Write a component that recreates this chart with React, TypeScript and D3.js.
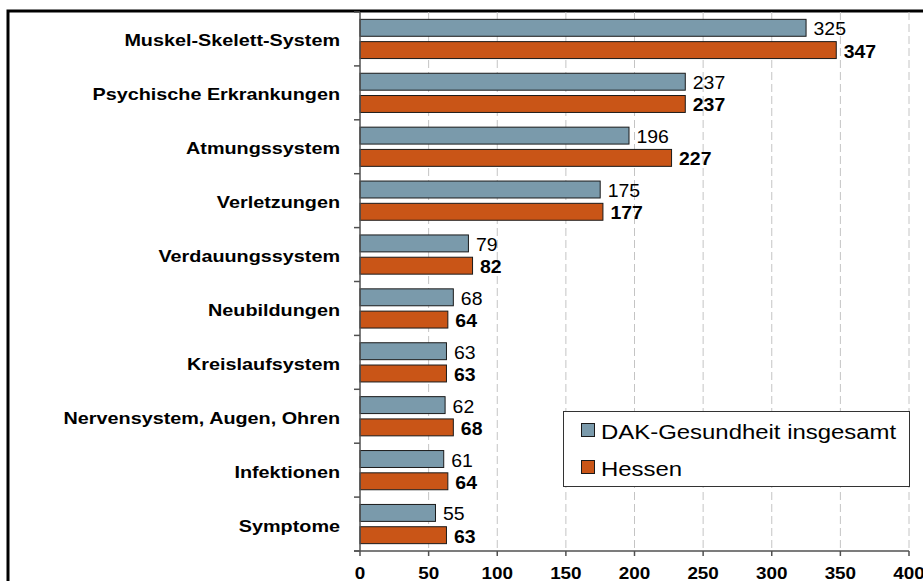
import React from "react";
import * as d3 from "d3";

const categories = [
  "Muskel-Skelett-System",
  "Psychische Erkrankungen",
  "Atmungssystem",
  "Verletzungen",
  "Verdauungssystem",
  "Neubildungen",
  "Kreislaufsystem",
  "Nervensystem, Augen, Ohren",
  "Infektionen",
  "Symptome",
];
const dakValues = [325, 237, 196, 175, 79, 68, 63, 62, 61, 55];
const hessenValues = [347, 237, 227, 177, 82, 64, 63, 68, 64, 63];
const seriesNames = ["DAK-Gesundheit insgesamt", "Hessen"];
const xTicks = [0, 50, 100, 150, 200, 250, 300, 350, 400];

const W = 923;
const H = 581;
const plotLeft = 360;
const plotRight = 909;
const plotTop = 12;
const plotBottom = 551;
const colors = ["#7a9aab", "#c95517"];
const font = "'Liberation Sans', Arial, sans-serif";

export default function App() {
  const x = d3.scaleLinear().domain([0, 400]).range([plotLeft, plotRight]);
  const y = d3.scaleBand<string>().domain(categories).range([plotTop, plotBottom]).padding(0);
  const inner = d3
    .scaleBand<number>()
    .domain([0, 1])
    .range([0, y.bandwidth()])
    .paddingInner(0.24)
    .paddingOuter(0.33);
  const series = [dakValues, hessenValues];

  const boundaries = categories.map((c) => y(c) as number).concat([plotBottom]);

  return (
    <>
      <style>{`body{margin:0;overflow:hidden}`}</style>
      <svg width={W} height={H} style={{ display: "block" }} fontFamily={font}>
        <rect x={0} y={0} width={W} height={H} fill="#fff" />
        {/* outer frame */}
        <rect x={8} y={11} width={W + 20} height={H + 20} fill="none" stroke="#000" strokeWidth={3} />

        {/* gridlines */}
        {xTicks.slice(1).map((t) => (
          <line
            key={"g" + t}
            x1={x(t)}
            x2={x(t)}
            y1={plotTop}
            y2={plotBottom}
            stroke="#c4c4c4"
            strokeWidth={1}
            strokeDasharray="8,4"
          />
        ))}

        {/* bars */}
        {categories.map((c, i) => (
          <g key={c}>
            {series.map((vals, s) => {
              const by = (y(c) as number) + (inner(s) as number);
              const bh = inner.bandwidth();
              const v = vals[i];
              return (
                <g key={s}>
                  <rect
                    x={x(0)}
                    y={by}
                    width={x(v) - x(0)}
                    height={bh}
                    fill={colors[s]}
                    stroke="#1a1a1a"
                    strokeWidth={1}
                  />
                  <text
                    transform={`translate(${x(v) + 7.5},${by + bh / 2 + 7.5}) scale(1.08,1)`}
                    fontSize={18}
                    fontWeight={s === 1 ? "bold" : "normal"}
                    fill="#000"
                  >
                    {v}
                  </text>
                </g>
              );
            })}
            <text
              transform={`translate(340,${(y(c) as number) + y.bandwidth() / 2 + 7.5}) scale(1.2,1)`}
              fontSize={16.5}
              fontWeight="bold"
              textAnchor="end"
              fill="#000"
            >
              {c}
            </text>
          </g>
        ))}

        {/* y axis */}
        <line x1={plotLeft} x2={plotLeft} y1={plotTop} y2={plotBottom} stroke="#505050" strokeWidth={1.5} />
        {boundaries.map((b, i) => (
          <line key={"yt" + i} x1={plotLeft - 6} x2={plotLeft} y1={b} y2={b} stroke="#505050" strokeWidth={1.5} />
        ))}

        {/* x axis */}
        <line x1={plotLeft - 6} x2={plotRight} y1={plotBottom} y2={plotBottom} stroke="#505050" strokeWidth={1.5} />
        {xTicks.map((t) => (
          <g key={"xt" + t}>
            <line x1={x(t)} x2={x(t)} y1={plotBottom} y2={plotBottom + 5} stroke="#505050" strokeWidth={1.5} />
            <text
              transform={`translate(${x(t)},${plotBottom + 27.5}) scale(1.18,1)`}
              fontSize={16}
              fontWeight="bold"
              textAnchor="middle"
              fill="#000"
            >
              {t}
            </text>
          </g>
        ))}

        {/* legend */}
        <rect x={563.5} y={411.5} width={346} height={75} fill="#fff" stroke="#333" strokeWidth={1} />
        {seriesNames.map((n, s) => (
          <g key={n}>
            <rect x={581.5} y={423.5 + s * 37} width={13} height={13} fill={colors[s]} stroke="#1a1a1a" strokeWidth={1} />
            <text
              transform={`translate(601,${438.5 + s * 37}) scale(1.14,1)`}
              fontSize={21}
              fill="#000"
            >
              {n}
            </text>
          </g>
        ))}
      </svg>
    </>
  );
}
